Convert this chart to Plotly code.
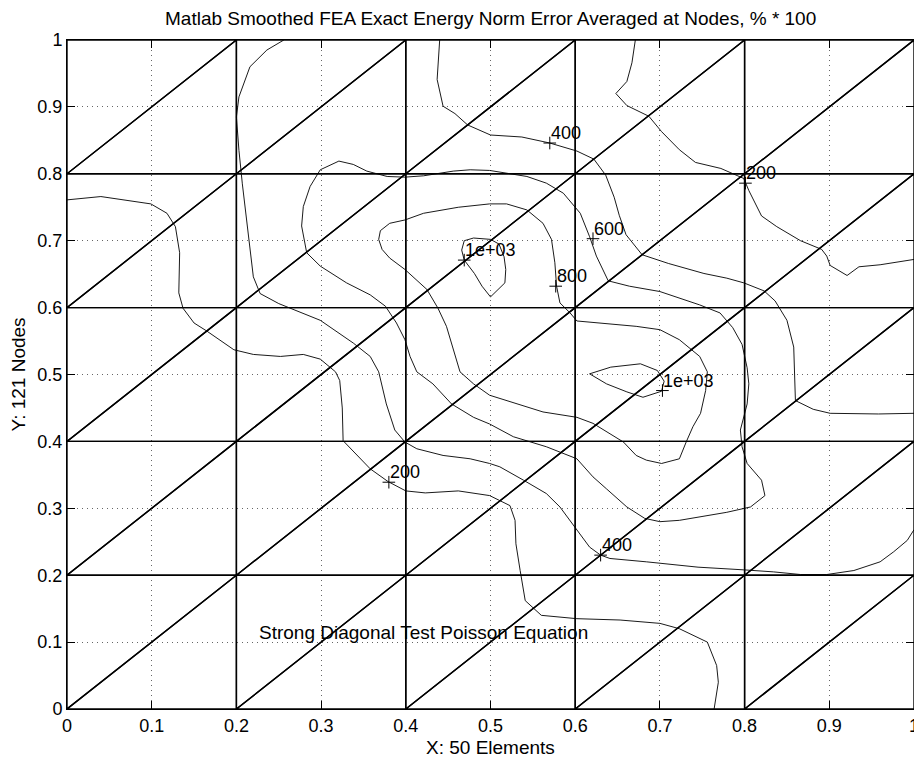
import plotly.graph_objects as go

# ---- mesh: 5 x 5 squares, each split along its rising diagonal (50 triangles)
mesh_coords = [0.0, 0.2, 0.4, 0.6, 0.8, 1.0]

# ---- contour polylines of the smoothed error field (level: 200 ... 1e+03)
c200a_x = [0.0, 0.040, 0.099, 0.118, 0.128, 0.133, 0.132, 0.137, 0.150, 0.165, 0.197, 0.220, 0.252,
           0.279, 0.299, 0.317, 0.322, 0.325, 0.326, 0.358, 0.379, 0.400, 0.423, 0.462, 0.499, 0.523,
           0.529, 0.530, 0.535, 0.541, 0.560, 0.602, 0.653, 0.700, 0.723, 0.745, 0.756, 0.767, 0.769, 0.764]
c200a_y = [0.761, 0.766, 0.755, 0.741, 0.721, 0.682, 0.622, 0.599, 0.577, 0.565, 0.537, 0.530, 0.527,
           0.530, 0.523, 0.504, 0.491, 0.450, 0.401, 0.359, 0.340, 0.326, 0.323, 0.326, 0.319, 0.304,
           0.282, 0.247, 0.207, 0.162, 0.140, 0.135, 0.133, 0.128, 0.120, 0.107, 0.100, 0.065, 0.040, 0.0]

c200b_x = [0.671, 0.667, 0.661, 0.648, 0.661, 0.687, 0.702, 0.723, 0.742, 0.772, 0.799, 0.805, 0.820,
           0.838, 0.866, 0.891, 0.897, 0.901, 0.921, 0.935, 0.960, 1.0]
c200b_y = [1.0, 0.966, 0.938, 0.920, 0.902, 0.886, 0.863, 0.836, 0.817, 0.808, 0.793, 0.775, 0.737,
           0.721, 0.700, 0.687, 0.677, 0.663, 0.648, 0.661, 0.664, 0.672]

c400a_x = [0.440, 0.437, 0.444, 0.458, 0.473, 0.500, 0.537, 0.570, 0.602, 0.622, 0.636, 0.646, 0.652,
           0.660, 0.679, 0.710, 0.752, 0.779, 0.799, 0.823, 0.836, 0.850, 0.858, 0.859, 0.860, 0.881,
           0.901, 0.958, 1.0]
c400a_y = [1.0, 0.941, 0.901, 0.890, 0.873, 0.858, 0.855, 0.846, 0.834, 0.822, 0.798, 0.765, 0.738,
           0.709, 0.679, 0.666, 0.651, 0.644, 0.637, 0.625, 0.610, 0.581, 0.541, 0.500, 0.461, 0.448,
           0.442, 0.441, 0.442]

c400b_x = [0.256, 0.236, 0.216, 0.203, 0.200, 0.203, 0.207, 0.212, 0.220, 0.228, 0.250, 0.299, 0.338,
           0.358, 0.368, 0.377, 0.387, 0.399, 0.413, 0.444, 0.476, 0.499, 0.511, 0.539, 0.566, 0.582,
           0.602, 0.617, 0.630, 0.641, 0.684, 0.745, 0.799, 0.834, 0.866, 0.897, 0.929, 0.960, 0.976,
           0.992, 1.0]
c400b_y = [1.0, 0.985, 0.960, 0.915, 0.885, 0.835, 0.785, 0.735, 0.646, 0.621, 0.606, 0.581, 0.547,
           0.527, 0.504, 0.456, 0.417, 0.399, 0.389, 0.379, 0.374, 0.367, 0.362, 0.342, 0.322, 0.302,
           0.267, 0.242, 0.230, 0.225, 0.220, 0.212, 0.208, 0.205, 0.201, 0.201, 0.207, 0.220, 0.235,
           0.252, 0.268]

c600_x = [0.803, 0.797, 0.786, 0.771, 0.747, 0.700, 0.664, 0.639, 0.625, 0.617, 0.606, 0.586, 0.566,
          0.543, 0.499, 0.476, 0.456, 0.421, 0.399, 0.378, 0.354, 0.338, 0.321, 0.299, 0.287, 0.279,
          0.277, 0.283, 0.299, 0.330, 0.358, 0.376, 0.389, 0.399, 0.405, 0.413, 0.432, 0.454, 0.480,
          0.499, 0.527, 0.566, 0.602, 0.621, 0.637, 0.661, 0.682, 0.700, 0.723, 0.747, 0.779, 0.807,
          0.824, 0.820, 0.803, 0.797, 0.795, 0.803, 0.805, 0.803]
c600_y = [0.510, 0.545, 0.570, 0.592, 0.604, 0.624, 0.632, 0.640, 0.677, 0.706, 0.741, 0.771, 0.786,
          0.796, 0.805, 0.806, 0.804, 0.797, 0.795, 0.796, 0.804, 0.814, 0.819, 0.806, 0.781, 0.751,
          0.722, 0.682, 0.662, 0.637, 0.619, 0.602, 0.577, 0.552, 0.527, 0.504, 0.486, 0.456, 0.436,
          0.426, 0.407, 0.392, 0.374, 0.347, 0.329, 0.302, 0.285, 0.280, 0.282, 0.287, 0.294, 0.302,
          0.319, 0.342, 0.367, 0.392, 0.417, 0.456, 0.486, 0.510]

c800_x = [0.499, 0.462, 0.421, 0.399, 0.381, 0.370, 0.368, 0.372, 0.381, 0.399, 0.425, 0.438, 0.448,
          0.456, 0.464, 0.480, 0.499, 0.562, 0.602, 0.621, 0.641, 0.657, 0.672, 0.684, 0.702, 0.723,
          0.731, 0.739, 0.748, 0.754, 0.756, 0.747, 0.723, 0.700, 0.672, 0.641, 0.602, 0.594, 0.582,
          0.578, 0.576, 0.572, 0.562, 0.543, 0.519, 0.499]
c800_y = [0.755, 0.750, 0.741, 0.731, 0.726, 0.715, 0.702, 0.687, 0.674, 0.657, 0.627, 0.599, 0.572,
          0.537, 0.504, 0.486, 0.469, 0.444, 0.436, 0.427, 0.412, 0.399, 0.379, 0.372, 0.367, 0.374,
          0.399, 0.422, 0.442, 0.476, 0.504, 0.527, 0.552, 0.567, 0.572, 0.576, 0.580, 0.592, 0.607,
          0.632, 0.667, 0.702, 0.726, 0.746, 0.755, 0.755]

c1000a_x = [0.469, 0.480, 0.500, 0.510, 0.516, 0.518, 0.517, 0.507, 0.500, 0.490, 0.481, 0.469, 0.466, 0.469]
c1000a_y = [0.700, 0.704, 0.702, 0.695, 0.676, 0.657, 0.637, 0.625, 0.616, 0.632, 0.651, 0.671, 0.686, 0.700]

c1000b_x = [0.617, 0.642, 0.677, 0.697, 0.705, 0.702, 0.680, 0.661, 0.637, 0.617]
c1000b_y = [0.501, 0.511, 0.516, 0.506, 0.490, 0.475, 0.466, 0.474, 0.486, 0.501]

# ---- inline contour labels (clabel style: '+' at the point, text to its upper right)
label_x = [0.570, 0.801, 0.469, 0.621, 0.577, 0.703, 0.380, 0.630]
label_y = [0.846, 0.786, 0.671, 0.703, 0.632, 0.476, 0.339, 0.230]
label_text = ["400", "200", "1e+03", "600", "800", "1e+03", "200", "400"]

# ---- axis ticks
tick_vals = [0.0, 0.1, 0.2, 0.3, 0.4, 0.5, 0.6, 0.7, 0.8, 0.9, 1.0]
tick_text = ["0", "0.1", "0.2", "0.3", "0.4", "0.5", "0.6", "0.7", "0.8", "0.9", "1"]

FONT = "Liberation Sans, Arial, Helvetica, sans-serif"

fig = go.Figure()

# triangle edges of every element
mx, my = [], []
n = len(mesh_coords) - 1
for i in range(n):
    for j in range(n):
        x0, x1 = mesh_coords[i], mesh_coords[i + 1]
        y0, y1 = mesh_coords[j], mesh_coords[j + 1]
        # lower-right triangle and upper-left triangle of the square
        for tri in ([(x0, y0), (x1, y0), (x1, y1)], [(x0, y0), (x1, y1), (x0, y1)]):
            for (px, py) in tri + [tri[0]]:
                mx.append(px)
                my.append(py)
            mx.append(None)
            my.append(None)

fig.add_trace(go.Scatter(x=mx, y=my, mode="lines",
                         line=dict(color="black", width=1.4),
                         hoverinfo="skip", showlegend=False))

contours = [(c200a_x, c200a_y), (c200b_x, c200b_y), (c400a_x, c400a_y), (c400b_x, c400b_y),
            (c600_x, c600_y), (c800_x, c800_y), (c1000a_x, c1000a_y), (c1000b_x, c1000b_y)]
for cx, cy in contours:
    fig.add_trace(go.Scatter(x=cx, y=cy, mode="lines",
                             line=dict(color="black", width=0.9),
                             hoverinfo="skip", showlegend=False))

fig.add_trace(go.Scatter(x=label_x, y=label_y, mode="markers",
                         marker=dict(symbol="cross-thin", size=9,
                                     line=dict(color="black", width=1)),
                         hoverinfo="skip", showlegend=False))

annotations = []
for lx, ly, lt in zip(label_x, label_y, label_text):
    annotations.append(dict(x=lx, y=ly, xref="x", yref="y", text=lt, showarrow=False,
                            xanchor="left", yanchor="bottom", yshift=-2, xshift=-1,
                            font=dict(family=FONT, size=18, color="black")))

annotations.append(dict(x=0.224, y=0.115, xref="x", yref="y",
                        text="Strong Diagonal Test Poisson Equation", showarrow=False,
                        xanchor="left", yanchor="middle",
                        font=dict(family=FONT, size=19, color="black")))

annotations.append(dict(x=0.5, y=1.0315, xref="paper", yref="paper",
                        text="Matlab Smoothed FEA Exact Energy Norm Error Averaged at Nodes, % * 100",
                        showarrow=False, xanchor="center", yanchor="middle",
                        font=dict(family=FONT, size=19, color="black")))
annotations.append(dict(x=0.5, y=-0.058, xref="paper", yref="paper",
                        text="X: 50 Elements", showarrow=False, xanchor="center", yanchor="middle",
                        font=dict(family=FONT, size=19, color="black")))
annotations.append(dict(x=-0.0567, y=0.5, xref="paper", yref="paper",
                        text="Y: 121 Nodes", showarrow=False, xanchor="center", yanchor="middle",
                        textangle=-90,
                        font=dict(family=FONT, size=19, color="black")))

axis_common = dict(
    range=[0, 1], tickmode="array", tickvals=tick_vals, ticktext=tick_text,
    ticks="inside", ticklen=8, tickwidth=1, tickcolor="black",
    showline=True, linecolor="black", linewidth=1, mirror="ticks",
    showgrid=True, gridcolor="#666666", gridwidth=1, griddash="1px,4px",
    zeroline=False, tickfont=dict(family=FONT, size=18, color="black"),
    ticklabeloverflow="allow", automargin=False, fixedrange=True,
)

fig.update_layout(
    width=914, height=759,
    margin=dict(l=67, r=0, t=40, b=50, autoexpand=False),
    paper_bgcolor="white", plot_bgcolor="white",
    xaxis=axis_common, yaxis=axis_common,
    annotations=annotations,
    showlegend=False,
)

fig.write_html("out.html")
